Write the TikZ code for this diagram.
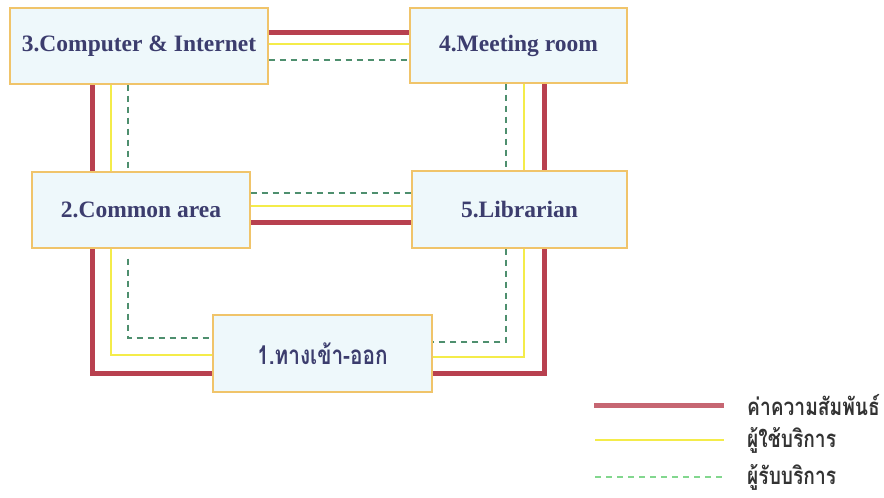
\documentclass[tikz,border=0pt]{standalone}
\usepackage{fontspec}
\setmainfont{Liberation Serif}
\newfontfamily\thai[Script=Thai,FakeStretch=0.8]{Loma}
\usetikzlibrary{backgrounds}
\definecolor{boxfill}{HTML}{EEF8FB}
\definecolor{boxline}{HTML}{F0C46A}
\definecolor{txt}{HTML}{3C3D6E}
\definecolor{rel}{HTML}{B8404F}
\definecolor{usr}{HTML}{F4EC4A}
\definecolor{srv}{HTML}{4E8F6E}
\definecolor{legtxt}{HTML}{333333}
\tikzset{
  room/.style={draw=boxline, line width=1.3pt, fill=boxfill, rectangle,
    inner sep=0pt, text=txt, font=\bfseries\fontsize{23.5}{26}\selectfont},
  relline/.style={draw=rel, line width=5pt},
  usrline/.style={draw=usr, line width=2.5pt},
  srvline/.style={draw=srv, line width=1.4pt, dash pattern=on 6pt off 5pt},
  legtext/.style={anchor=west, inner sep=0pt, text=legtxt, font=\thai\bfseries\fontsize{24}{26}\selectfont}
}
\begin{document}
\begin{tikzpicture}[x=1pt,y=-1pt]
\useasboundingbox (0,0) rectangle (884,498);
% rooms
\node[room, minimum width=258pt, minimum height=76pt] (n3) at (139,46) {3.Computer \& Internet};
\node[room, minimum width=217pt, minimum height=75pt] (n4) at (518.5,45.5) {4.Meeting room};
\node[room, minimum width=218pt, minimum height=76pt] (n2) at (141,210) {2.Common area};
\node[room, minimum width=215pt, minimum height=77pt] (n5) at (519.5,209.5) {5.Librarian};
\node[room, minimum width=219pt, minimum height=77pt, font=\thai\bfseries\fontsize{26}{28}\selectfont] (n1) at (322.5,353.5) {1.ทางเข้า-ออก};
\begin{scope}[on background layer]
% 3 -- 4
\draw[relline] (n3.east |- 0,32) -- (n4.west |- 0,32);
\draw[usrline] (n3.east |- 0,44) -- (n4.west |- 0,44);
\draw[srvline] (n3.east |- 0,60) -- (n4.west |- 0,60);
% 3 -- 2
\draw[relline] (n3.south -| 92,0) -- (n2.north -| 92,0);
\draw[usrline] (n3.south -| 111,0) -- (n2.north -| 111,0);
\draw[srvline] (n3.south -| 128,0) -- (n2.north -| 128,0);
% 4 -- 5
\draw[srvline] (n4.south -| 506,0) -- (n5.north -| 506,0);
\draw[usrline] (n4.south -| 524,0) -- (n5.north -| 524,0);
\draw[relline] (n4.south -| 544,0) -- (n5.north -| 544,0);
% 2 -- 5
\draw[srvline] (n2.east |- 0,193) -- (n5.west |- 0,193);
\draw[usrline] (n2.east |- 0,206) -- (n5.west |- 0,206);
\draw[relline] (n2.east |- 0,222) -- (n5.west |- 0,222);
% 2 -- 1
\draw[relline] (n2.south -| 92,0) |- (n1.west |- 0,373);
\draw[usrline] (n2.south -| 111,0) |- (n1.west |- 0,355);
\draw[srvline] (n2.south -| 128,0) ++(0,10) |- (n1.west |- 0,338);
% 5 -- 1
\draw[srvline] (n5.south -| 506,0) |- (n1.east |- 0,342);
\draw[usrline] (n5.south -| 524,0) |- (n1.east |- 0,357);
\draw[relline] (n5.south -| 544,0) |- (n1.east |- 0,373);
\end{scope}
% legend
\coordinate (l1a) at (594,405); \coordinate (l1b) at (724,405);
\coordinate (l2a) at (595,440); \coordinate (l2b) at (724,440);
\coordinate (l3a) at (595,477); \coordinate (l3b) at (724,477);
\draw[relline, draw=rel!80] (l1a) -- (l1b);
\draw[usrline] (l2a) -- (l2b);
\draw[srvline, draw=srv!60!green!60] (l3a) -- (l3b);
\node[legtext] (t1) at (747,405) {ค่าความสัมพันธ์};
\node[legtext] (t2) at (747,440) {ผู้ใช้บริการ};
\node[legtext] (t3) at (747,477) {ผู้รับบริการ};
\end{tikzpicture}
\end{document}
